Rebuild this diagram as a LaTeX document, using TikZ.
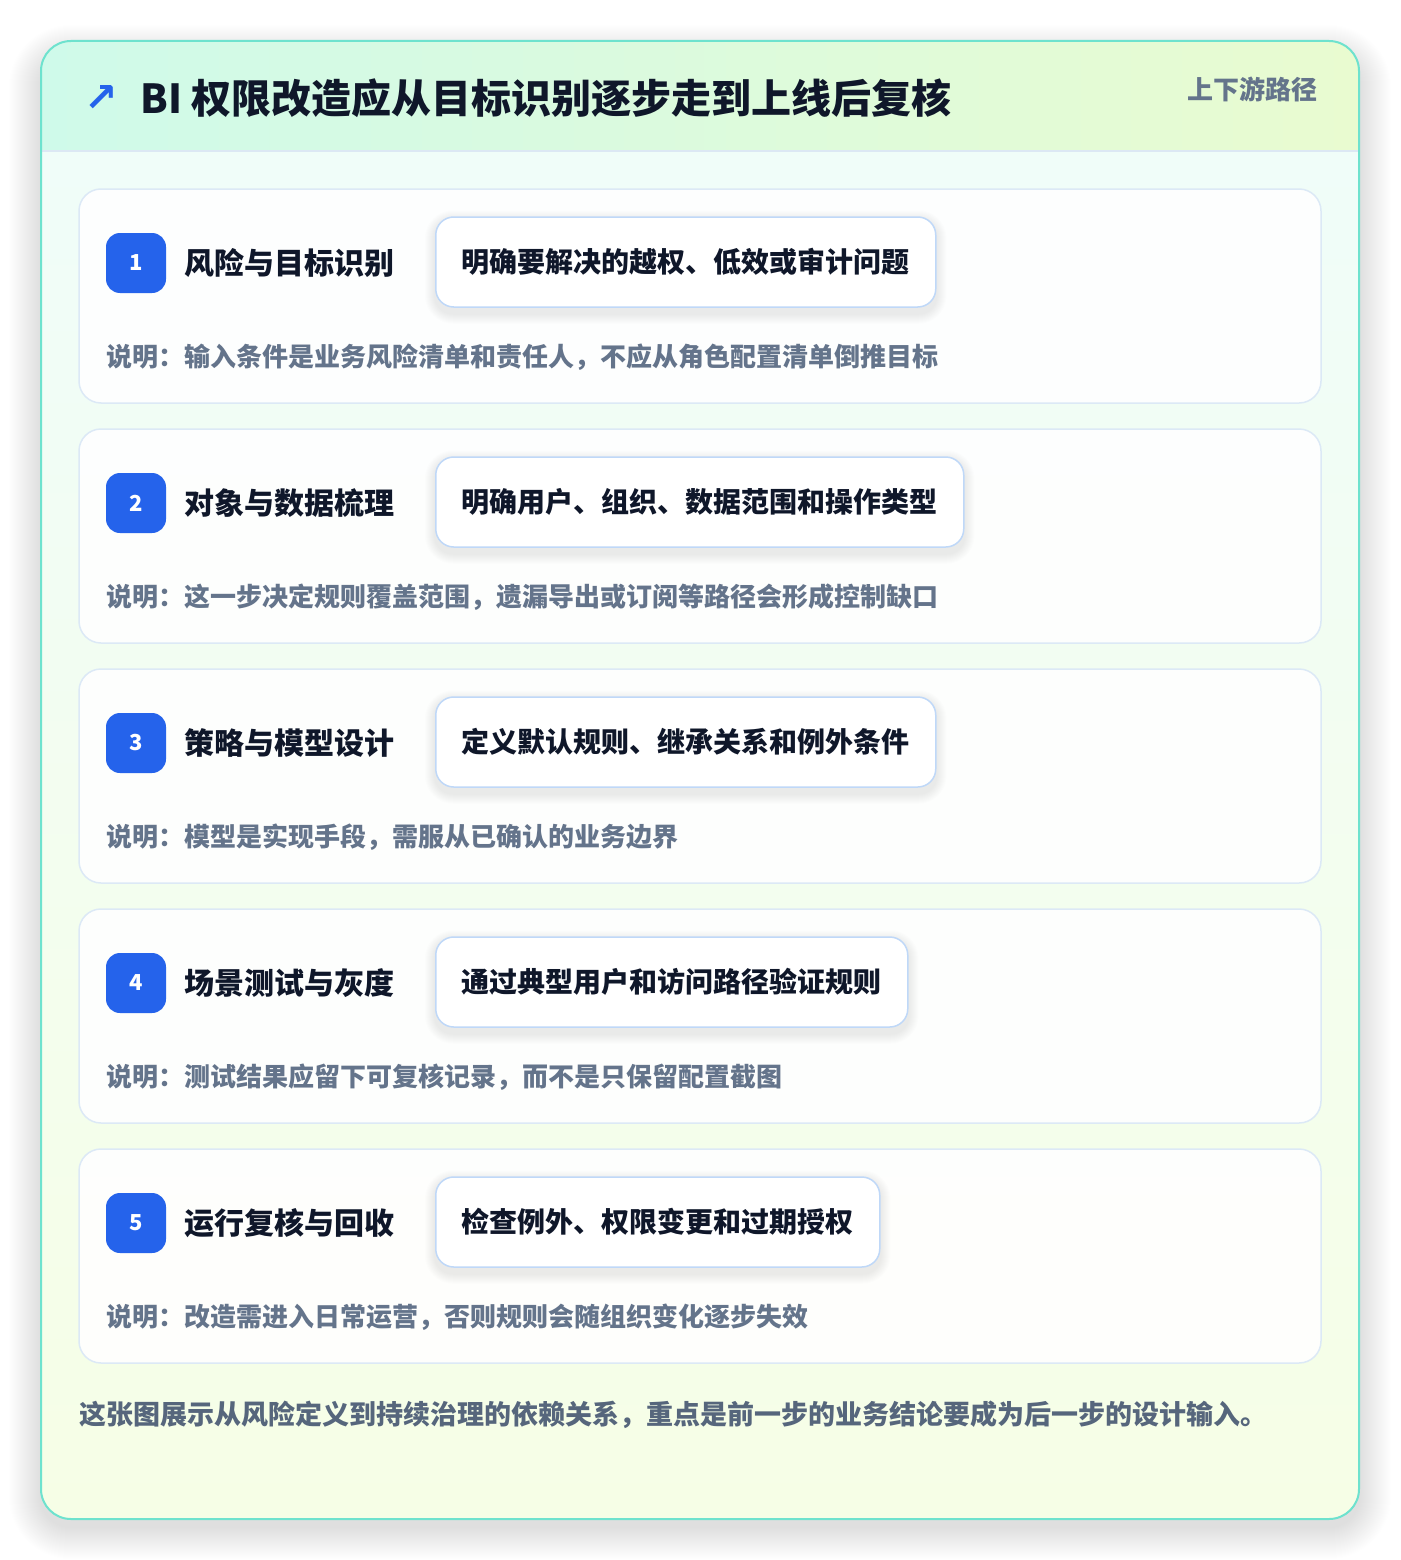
\documentclass[tikz,border=0pt]{standalone}
\usepackage{fontspec}
\setmainfont{Noto Sans CJK SC}
\newfontfamily\symfont{DejaVu Sans}
\definecolor{cardborder}{HTML}{6EE2CE}
\definecolor{headL}{HTML}{CFFAEA}
\definecolor{headR}{HTML}{E9FBD0}
\definecolor{bodyT}{HTML}{F0FDF9}
\definecolor{bodyB}{HTML}{F6FEE6}
\definecolor{sepline}{HTML}{DCE8F4}
\definecolor{stepborder}{HTML}{DCE9F6}
\definecolor{pillborder}{HTML}{BFD8F8}
\definecolor{badgeblue}{HTML}{2563EB}
\definecolor{darktext}{HTML}{0F172A}
\definecolor{greytext}{HTML}{64748B}
\definecolor{foottext}{HTML}{56667C}
\definecolor{shadowcol}{HTML}{1E293B}
\newcommand\fsz[1]{\fontsize{#1}{#1}\selectfont}
\tikzset{
  stepcard/.style={draw=stepborder, line width=1.5pt, fill=white, fill opacity=0.9, draw opacity=1, rounded corners=22pt},
  badge/.style={fill=badgeblue, rounded corners=14pt, minimum width=60pt, minimum height=60pt, inner sep=0pt, text=white, font=\fsz{22}\bfseries},
  steptitle/.style={anchor=west, inner sep=0pt, text=darktext, font=\fsz{30}\bfseries},
  pill/.style={anchor=west, draw=pillborder, line width=1.5pt, fill=white, rounded corners=18pt, minimum height=90pt, inner xsep=26pt, inner ysep=0pt, text=darktext, font=\fsz{28}\bfseries},
  desc/.style={anchor=west, inner sep=0pt, text=greytext, font=\fsz{26}\bfseries},
  softshadow/.style={fill=shadowcol, fill opacity=#1},
}
\newcommand\steprow[5]{%
  \path[stepcard] (79,#2) rectangle (1321,#2+214);
  \node[badge] (badge#1) at (136,#2+74) {#1};
  \node[steptitle] (title#1) at (184,#2+74) {#3};
  \node[pill, opacity=0] (ghost#1) at (435,#2+73) {#4};
  \foreach \k in {1,...,10}{
    \fill[softshadow=0.006, rounded corners=18pt+\k pt] ([xshift=-\k pt, yshift=\k pt-4pt]ghost#1.north west) rectangle ([xshift=\k pt, yshift=-\k pt-6pt]ghost#1.south east);
  }
  \node[pill] (pill#1) at (435,#2+73) {#4};
  \node[desc] (desc#1) at (106,#2+168) {#5};
}
\begin{document}
\begin{tikzpicture}[x=1pt,y=-1pt]
\useasboundingbox (0,0) rectangle (1400,1560);
\fill[white] (0,0) rectangle (1400,1560);
% soft shadow of the outer card
\foreach \k in {1,...,32}{
  \fill[softshadow=0.0042, rounded corners=30pt+\k pt] (41-\k,41-\k+16) rectangle (1359+\k,1519+\k+8);
}
\begin{scope}
  \clip[rounded corners=30pt] (41,41) rectangle (1359,1519);
  \shade[top color=bodyT, bottom color=bodyB] (41,151) rectangle (1359,1519);
  \shade[left color=headL, right color=headR] (41,41) rectangle (1359,151);
\end{scope}
\draw[sepline, line width=1.5pt] (41,151) -- (1359,151);
\draw[cardborder, line width=2pt, rounded corners=30pt] (41,41) rectangle (1359,1519);
% header
\node[inner sep=0pt, text=badgeblue, font=\symfont\fsz{40}\bfseries] (icon) at (101,99) {↗};
\node[anchor=west, inner sep=0pt, text=darktext, font=\fsz{40}\bfseries] (title) at (140,98) {BI 权限改造应从目标识别逐步走到上线后复核};
\node[anchor=east, inner sep=0pt, text=greytext, font=\fsz{26}\bfseries] (tag) at (1318,89) {上下游路径};
% steps
\steprow{1}{189}{风险与目标识别}{明确要解决的越权、低效或审计问题}{说明：输入条件是业务风险清单和责任人，不应从角色配置清单倒推目标}
\steprow{2}{429}{对象与数据梳理}{明确用户、组织、数据范围和操作类型}{说明：这一步决定规则覆盖范围，遗漏导出或订阅等路径会形成控制缺口}
\steprow{3}{669}{策略与模型设计}{定义默认规则、继承关系和例外条件}{说明：模型是实现手段，需服从已确认的业务边界}
\steprow{4}{909}{场景测试与灰度}{通过典型用户和访问路径验证规则}{说明：测试结果应留下可复核记录，而不是只保留配置截图}
\steprow{5}{1149}{运行复核与回收}{检查例外、权限变更和过期授权}{说明：改造需进入日常运营，否则规则会随组织变化逐步失效}
% footer
\node[anchor=west, inner sep=0pt, text=foottext, font=\fsz{27}\bfseries] (foot) at (79,1415) {这张图展示从风险定义到持续治理的依赖关系，重点是前一步的业务结论要成为后一步的设计输入。};
\end{tikzpicture}
\end{document}
